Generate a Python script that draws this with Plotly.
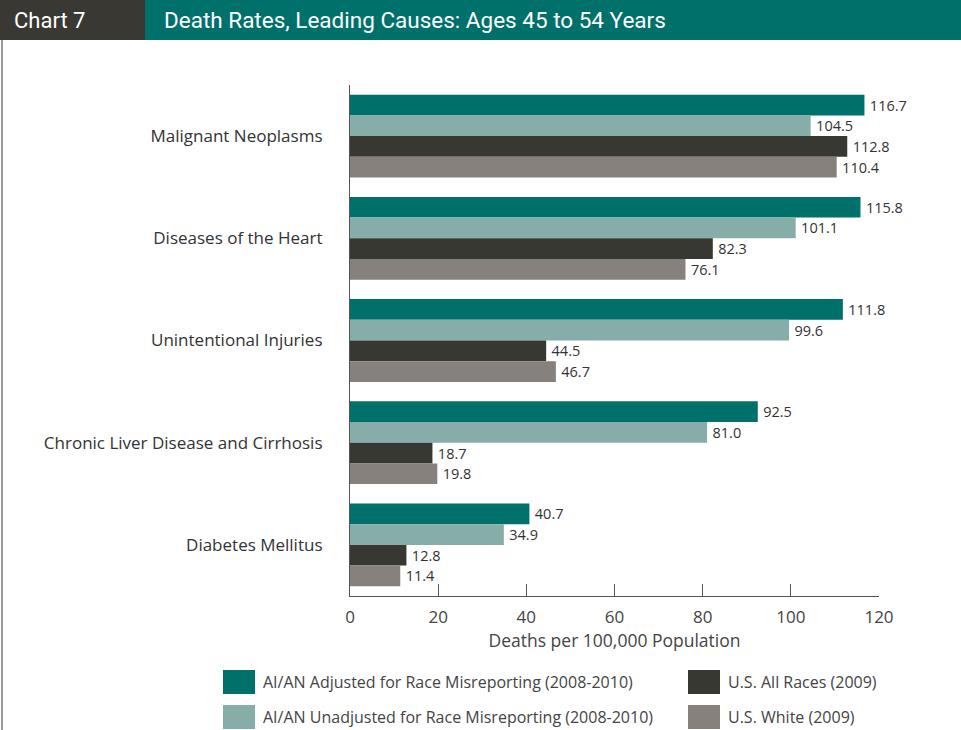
import plotly.graph_objects as go

# ---- data ----
categories = ["Malignant Neoplasms", "Diseases of the Heart", "Unintentional Injuries",
              "Chronic Liver Disease and Cirrhosis", "Diabetes Mellitus"]
series_names = ["AI/AN Adjusted for Race Misreporting (2008-2010)",
                "AI/AN Unadjusted for Race Misreporting (2008-2010)",
                "U.S. All Races (2009)",
                "U.S. White (2009)"]
aian_adjusted = [116.7, 115.8, 111.8, 92.5, 40.7]
aian_unadjusted = [104.5, 101.1, 99.6, 81.0, 34.9]
us_all_races = [112.8, 82.3, 44.5, 18.7, 12.8]
us_white = [110.4, 76.1, 46.7, 19.8, 11.4]
x_ticks = [0, 20, 40, 60, 80, 100, 120]
chart_label = "Chart 7"
chart_title = "Death Rates, Leading Causes: Ages 45 to 54 Years"
x_title = "Deaths per 100,000 Population"

colors = ["#00706A", "#87ADA9", "#383833", "#87817D"]
values = [aian_adjusted, aian_unadjusted, us_all_races, us_white]

W, H = 961, 730
L, R, T, B = 350, 879, 85, 596
FONT = "Open Sans"

def px(x):
    return (x - L) / (R - L)

def py(y):
    return (B - y) / (B - T)

fig = go.Figure()
for name, vals, col in zip(series_names, values, colors):
    fig.add_trace(go.Bar(
        y=categories, x=vals, name=name, orientation="h",
        marker=dict(color=col, line=dict(width=0)),
        text=[f"\u2009{v:.1f}" for v in vals], textposition="outside",
        textfont=dict(family=FONT, size=14.5, color="#333333"),
        cliponaxis=False, constraintext="none", showlegend=False,
        hoverinfo="x+name",
    ))

shapes = []
annotations = []
# header bands
shapes.append(dict(type="rect", xref="paper", yref="paper", x0=px(0), x1=px(145), y0=py(40), y1=py(0),
                   fillcolor="#393833", line=dict(width=0), layer="above"))
shapes.append(dict(type="rect", xref="paper", yref="paper", x0=px(145), x1=px(W), y0=py(40), y1=py(0),
                   fillcolor="#00706A", line=dict(width=0), layer="above"))
# left border line
shapes.append(dict(type="line", xref="paper", yref="paper", x0=px(2), x1=px(2), y0=py(40), y1=py(H),
                   line=dict(color="#555555", width=1.2)))
annotations.append(dict(text=chart_label, xref="paper", yref="paper", x=px(12), y=py(20),
                        xanchor="left", yanchor="middle", showarrow=False,
                        font=dict(family="Roboto", size=22, color="white")))
annotations.append(dict(text=chart_title, xref="paper", yref="paper", x=px(162), y=py(20),
                        xanchor="left", yanchor="middle", showarrow=False,
                        font=dict(family="Roboto", size=22.5, color="white")))
# custom legend
leg_pos = [(223, 670), (223, 705), (688, 670), (688, 705)]
for (lx, ly), name, col in zip(leg_pos, series_names, colors):
    shapes.append(dict(type="rect", xref="paper", yref="paper", x0=px(lx), x1=px(lx + 32),
                       y0=py(ly + 24), y1=py(ly), fillcolor=col, line=dict(width=0)))
    annotations.append(dict(text=name, xref="paper", yref="paper", x=px(lx + 38), y=py(ly + 12),
                            xanchor="left", yanchor="middle", showarrow=False,
                            font=dict(family=FONT, size=16, color="#444444")))

fig.update_layout(
    width=W, height=H,
    margin=dict(l=L, r=W - R, t=T, b=H - B, pad=0),
    paper_bgcolor="white", plot_bgcolor="white",
    barmode="group", bargap=0.19, bargroupgap=0,
    font=dict(family=FONT, size=16, color="#444444"),
    xaxis=dict(range=[0, 120], tickvals=x_ticks, ticks="inside", ticklen=12, tickcolor="#555555",
               showline=True, linecolor="#555555", linewidth=1.2, showgrid=False, zeroline=False,
               tickfont=dict(family=FONT, size=17, color="#444444"), ticklabelstandoff=5,
               title=dict(text=x_title, font=dict(family=FONT, size=17.5, color="#444444"), standoff=6),
               fixedrange=True),
    yaxis=dict(autorange="reversed", ticks="", showline=True, linecolor="#555555", linewidth=1.2,
               showgrid=False, zeroline=False, ticklabelstandoff=23,
               tickfont=dict(family=FONT, size=17, color="#333333"), fixedrange=True),
    shapes=shapes, annotations=annotations,
)

fig.write_html("out.html", config={"displayModeBar": False},
               post_script="document.body.style.margin='0';document.body.style.overflow='hidden';")
